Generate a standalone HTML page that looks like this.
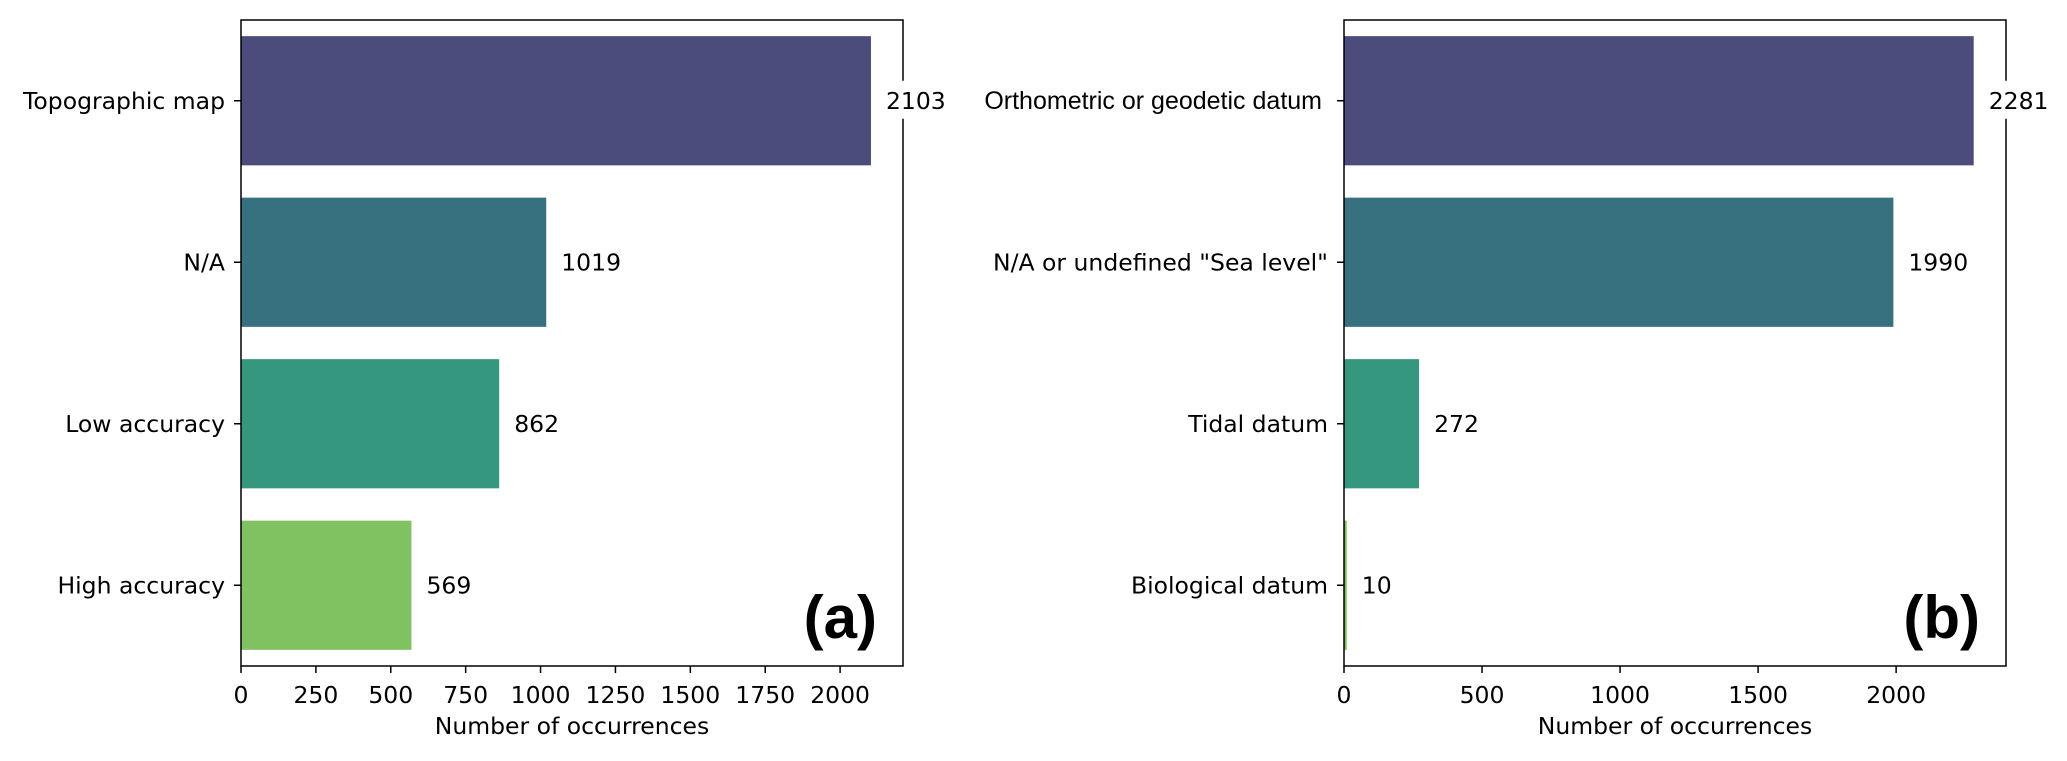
<!DOCTYPE html>
<html><head><meta charset="utf-8"><style>
body{margin:0;background:#fff}
svg text{font-family:"DejaVu Sans","Liberation Sans",sans-serif;fill:#000}
</style></head><body>
<svg id="c" width="2067" height="756"></svg>
<script>
const catsA=["Topographic map","N/A","Low accuracy","High accuracy"];
const valsA=[2103,1019,862,569];
const ticksA=[0,250,500,750,1000,1250,1500,1750,2000];
const catsB=["Orthometric or geodetic datum","N/A or undefined \"Sea level\"","Tidal datum","Biological datum"];
const valsB=[2281,1990,272,10];
const ticksB=[0,500,1000,1500,2000];
const colors=["#4b4b7c","#37717f","#34977e","#80c261"];
const NS="http://www.w3.org/2000/svg";
const svg=document.getElementById('c');
const FS=23.5;
function mk(t,a,p){const e=document.createElementNS(NS,t);for(const k in a)e.setAttribute(k,a[k]);(p||svg).appendChild(e);return e;}
function panel(id,x0,x1,xmax,cats,vals,ticks,letter,arialFirst){
  const top=20,bot=666;
  const g=mk('g',{});
  
  
  const sx=v=>x0+v/xmax*(x1-x0);
  const band=(bot-top)/cats.length;
  const sy=i=>top+band*(i+0.5);
  cats.forEach((c,i)=>{
    const r=mk('rect',{x:sx(0),y:sy(i)-band*0.4,width:sx(vals[i])-sx(0),height:band*0.8,fill:colors[i]},g);
    
    
    mk('line',{x1:x0-7,x2:x0,y1:sy(i),y2:sy(i),stroke:'#000','stroke-width':1.5},g);
    const ar=arialFirst&&i===0;
    const t=mk('text',{x:x0-(ar?22:16),y:sy(i)+8,'text-anchor':'end','font-size':ar?25:FS},g);
    if(ar)t.setAttribute('style','font-family:"Liberation Sans",sans-serif');
    t.textContent=c;
    
    
  });
  mk('rect',{x:x0,y:top,width:x1-x0,height:bot-top,fill:'none',stroke:'#000','stroke-width':1.5},g);
  cats.forEach((c,i)=>{
    const tx=sx(vals[i])+15;
    const t=mk('text',{x:tx,y:sy(i)+8,'font-size':FS},g);
    t.textContent=vals[i];
    
    
    const w=t.getComputedTextLength();
    if(tx+w>x1-2&&tx<x1+2){
      const bg=mk('rect',{x:tx-4,y:sy(i)-20,width:w+8,height:38,fill:'#fff'});
      g.insertBefore(bg,t);
    }
  });
  ticks.forEach(v=>{
    mk('line',{x1:sx(v),x2:sx(v),y1:bot,y2:bot+7,stroke:'#000','stroke-width':1.5},g);
    const t=mk('text',{x:sx(v),y:bot+37,'text-anchor':'middle','font-size':FS},g);
    t.textContent=v;
    
    
  });
  const xt=mk('text',{x:(x0+x1)/2,y:734,'text-anchor':'middle','font-size':FS},g);
  xt.textContent='Number of occurrences';
  
  
  const pl=mk('text',{x:x1-26,y:638,'text-anchor':'end','font-size':60,'font-weight':'bold',style:'font-family:"Liberation Sans",sans-serif'},g);
  pl.textContent=letter;
  
  
}
panel('a',241,903,2210,catsA,valsA,ticksA,'(a)',false);
panel('b',1344,2006,2398,catsB,valsB,ticksB,'(b)',true);
</script>
</body></html>
